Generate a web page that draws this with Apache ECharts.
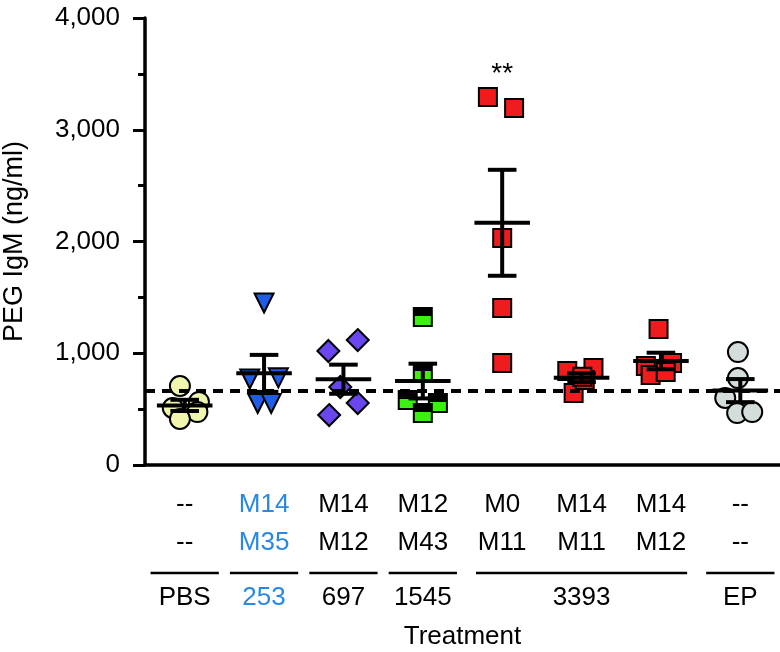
<!DOCTYPE html>
<html>
<head>
<meta charset="utf-8">
<script src="https://cdn.jsdelivr.net/npm/echarts@6/dist/echarts.min.js"></script>
<style>
  html, body { margin: 0; padding: 0; background: #fff; }
  #chart { width: 780px; height: 652px; }
</style>
</head>
<body>
<div id="chart"></div>
<script>
// tick labels under the axis
const row1 = ["--", "M14", "M14", "M12", "M0", "M14", "M14", "--"];
const row2 = ["--", "M35", "M12", "M43", "M11", "M11", "M12", "--"];
const blueCols = [1];
const groupNames = ["PBS", "253", "697", "1545", "3393", "EP"];
const groupFrom = [0, 1, 2, 3, 4, 7];
const groupTo = [0, 1, 2, 3, 6, 7];

// PEG IgM values (ng/ml)
const pbs = [707, 510, 564, 474, 412];
const m14m35 = [1450, 770, 780, 550, 550];
const m14m12a = [1020, 1118, 698, 555, 447];
const m12m43 = [1324, 830, 582, 555, 465];
const m0m11 = [3293, 3195, 2031, 1405, 913];
const m14m11 = [841, 868, 644, 760, 790];
const m14m12b = [1217, 886, 913, 805, 832];
const ep = [1011, 778, 600, 465, 474];
const values = [pbs, m14m35, m14m12a, m12m43, m0m11, m14m11, m14m12b, ep];

// horizontal scatter of the dots inside each column (category units)
const jitter = [
  [-0.06, -0.15, 0.18, 0.16, -0.06],
  [0, -0.18, 0.18, -0.08, 0.09],
  [-0.19, 0.18, -0.04, 0.18, -0.18],
  [0, 0, -0.19, 0.19, 0],
  [-0.18, 0.15, 0, 0, 0],
  [-0.18, 0.15, -0.1, 0.04, 0.01],
  [-0.03, -0.19, 0.14, -0.13, 0.06],
  [-0.03, -0.03, -0.19, -0.04, 0.15]
];

const baseline = 665;      // dashed reference line
const sigGroup = 4;
const sigValue = 3500;

const font = "Liberation Sans, Arial, Helvetica, sans-serif";
const green = new echarts.graphic.LinearGradient(0, 0, 0, 1, [
  { offset: 0, color: "#000" }, { offset: 0.45, color: "#000" },
  { offset: 0.45, color: "#3cf014" }, { offset: 1, color: "#3cf014" }
]);
const looks = [
  { symbol: "circle", size: 20, color: "#f1f6ae", rotate: 0 },
  { symbol: "triangle", size: 19, color: "#1f5de8", rotate: 180 },
  { symbol: "diamond", size: 22, color: "#6a46ee", rotate: 0 },
  { symbol: "rect", size: 18, color: green, rotate: 0 },
  { symbol: "rect", size: 18, color: "#ee1c1c", rotate: 0 },
  { symbol: "rect", size: 18, color: "#ee1c1c", rotate: 0 },
  { symbol: "rect", size: 18, color: "#ee1c1c", rotate: 0 },
  { symbol: "circle", size: 20, color: "#d3dddc", rotate: 0 }
];

function meanSem(arr) {
  const n = arr.length;
  const m = arr.reduce((a, b) => a + b, 0) / n;
  const sd = Math.sqrt(arr.reduce((a, b) => a + (b - m) * (b - m), 0) / (n - 1));
  return [m, sd / Math.sqrt(n)];
}
const stats = values.map((v, i) => [i].concat(meanSem(v)));

const scatterSeries = values.map((vals, i) => ({
  type: "scatter",
  xAxisIndex: 1,
  symbol: looks[i].symbol,
  symbolSize: looks[i].size,
  symbolRotate: looks[i].rotate,
  itemStyle: { color: looks[i].color, borderColor: "#000", borderWidth: 2, opacity: 1 },
  data: vals.map((v, k) => [i + jitter[i][k], v]),
  z: 2
}));

const chart = echarts.init(document.getElementById("chart"));
chart.setOption({
  animation: false,
  grid: { left: 145, right: 0, top: 18, bottom: 187, containLabel: false, outerBoundsMode: "none" },
  xAxis: [
    {
      type: "category",
      data: row1.map((r, i) => i),
      boundaryGap: true,
      name: "Treatment",
      nameLocation: "middle",
      nameGap: 159,
      nameTextStyle: { color: "#000", fontSize: 26, fontFamily: font },
      axisLine: { lineStyle: { color: "#000", width: 3.5 } },
      axisTick: { alignWithLabel: true, length: 12, lineStyle: { color: "#000", width: 3 } },
      axisLabel: {
        margin: 21,
        interval: 0,
        formatter: (v, i) => {
          const k = blueCols.includes(i) ? "b" : "k";
          return "{" + k + "|" + row1[i] + "}\n{" + k + "|" + row2[i] + "}";
        },
        rich: {
          k: { color: "#000", fontSize: 26, fontFamily: font, lineHeight: 38 },
          b: { color: "#2a88e2", fontSize: 26, fontFamily: font, lineHeight: 38 }
        }
      },
      splitLine: { show: false }
    },
    { type: "value", min: -0.5, max: 7.5, show: false }
  ],
  yAxis: {
    type: "value",
    min: 0,
    max: 4000,
    interval: 1000,
    name: "PEG IgM (ng/ml)",
    nameLocation: "middle",
    nameGap: 117,
    nameTextStyle: { color: "#000", fontSize: 27, fontFamily: font },
    axisLine: { show: true, onZero: false, lineStyle: { color: "#000", width: 3.5 } },
    axisTick: { show: true, length: 12, lineStyle: { color: "#000", width: 3 } },
    minorTick: { show: true, splitNumber: 2, length: 7, lineStyle: { color: "#000", width: 3 } },
    axisLabel: {
      margin: 25,
      color: "#000",
      fontSize: 26,
      fontFamily: font,
      formatter: v => v.toLocaleString("en-US")
    },
    splitLine: { show: false }
  },
  series: scatterSeries.concat([
    {
      type: "custom",
      xAxisIndex: 1,
      z: 5,
      data: stats,
      renderItem: (params, api) => {
        const x = api.value(0), m = api.value(1), s = api.value(2);
        const mid = api.coord([x, m]);
        const hi = api.coord([x, m + s]);
        const lo = api.coord([x, m - s]);
        const half = api.size([0.35, 0])[0];
        const cap = api.size([0.18, 0])[0];
        const st = { stroke: "#000", lineWidth: 4 };
        return {
          type: "group",
          children: [
            { type: "line", shape: { x1: mid[0] - half, y1: mid[1], x2: mid[0] + half, y2: mid[1] }, style: st },
            { type: "line", shape: { x1: hi[0], y1: hi[1], x2: lo[0], y2: lo[1] }, style: st },
            { type: "line", shape: { x1: hi[0] - cap, y1: hi[1], x2: hi[0] + cap, y2: hi[1] }, style: st },
            { type: "line", shape: { x1: lo[0] - cap, y1: lo[1], x2: lo[0] + cap, y2: lo[1] }, style: st }
          ]
        };
      },
      markLine: {
        silent: true,
        symbol: "none",
        label: { show: false },
        lineStyle: { color: "#000", width: 4, type: [10, 7] },
        data: [{ yAxis: baseline }]
      }
    },
    {
      type: "custom",
      xAxisIndex: 1,
      clip: false,
      z: 5,
      data: groupNames.map((g, i) => [groupFrom[i], groupTo[i], i]),
      renderItem: (params, api) => {
        const a = api.value(0), b = api.value(1);
        const pad = b > a ? 0.33 : 0.43;
        const p1 = api.coord([a - pad, 0]);
        const p2 = api.coord([b + pad, 0]);
        const c = api.coord([(a + b) / 2, 0]);
        const i = api.value(2);
        return {
          type: "group",
          children: [
            { type: "line", shape: { x1: p1[0], y1: p1[1] + 108, x2: p2[0], y2: p2[1] + 108 }, style: { stroke: "#000", lineWidth: 2.5 } },
            {
              type: "text",
              x: c[0], y: c[1] + 133,
              style: {
                text: groupNames[i], fill: groupFrom[i] === 1 ? "#2a88e2" : "#000",
                fontSize: 26, fontFamily: font, align: "center", verticalAlign: "middle"
              }
            }
          ]
        };
      }
    },
    {
      type: "custom",
      xAxisIndex: 1,
      z: 5,
      data: [[sigGroup, sigValue]],
      renderItem: (params, api) => {
        const p = api.coord([api.value(0), api.value(1)]);
        return {
          type: "text", x: p[0], y: p[1],
          style: { text: "**", fill: "#000", fontSize: 28, fontFamily: font, align: "center", verticalAlign: "middle" }
        };
      }
    }
  ])
});
</script>
</body>
</html>
